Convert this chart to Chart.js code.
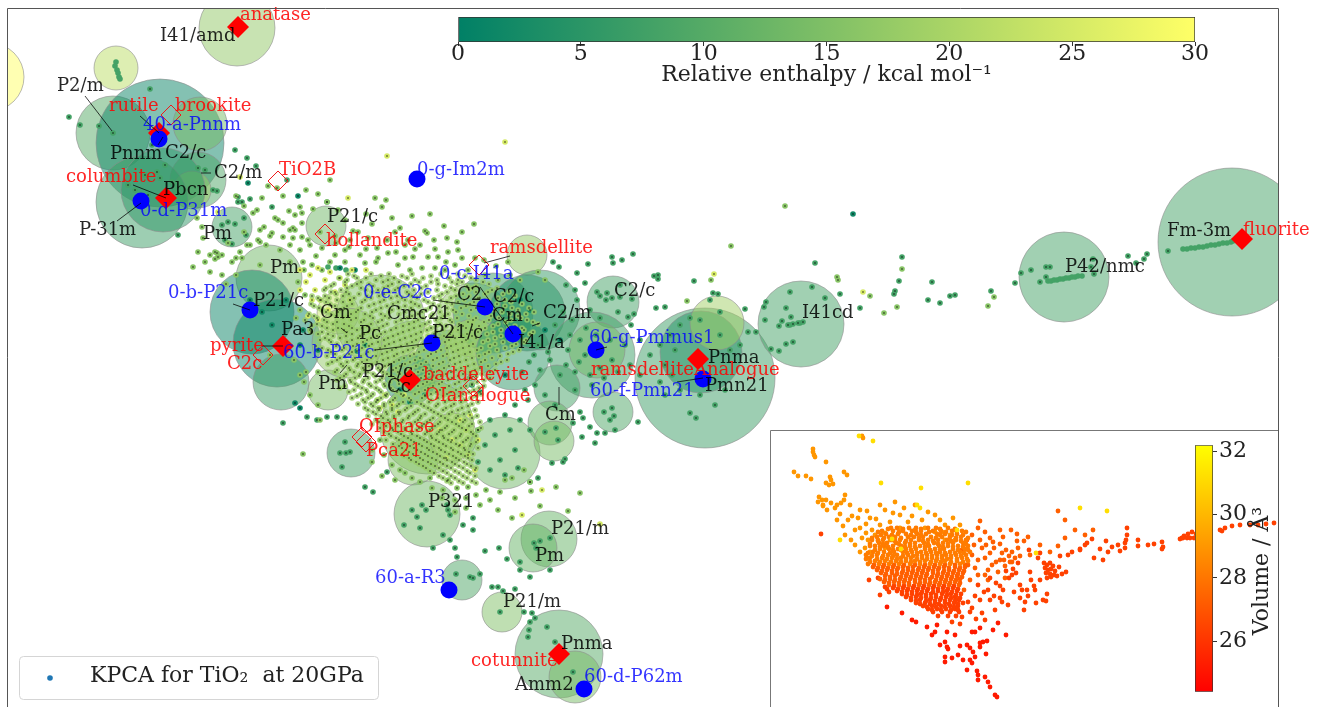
<!DOCTYPE html>
<html>
<head>
<meta charset="utf-8">
<title>KPCA for TiO2 at 20GPa</title>
<script src="https://cdn.jsdelivr.net/npm/chart.js@4/dist/chart.umd.min.js"></script>
<style>
  body { margin: 0; background: #fff; overflow: hidden; }
  canvas { position: absolute; }
</style>
</head>
<body>
<canvas id="main" width="1322" height="707" style="left:0;top:0"></canvas>
<canvas id="inset" width="508" height="277" style="left:770px;top:430px"></canvas>
<canvas id="barE" width="840" height="85" style="left:400px;top:5px"></canvas>
<canvas id="barV" width="105" height="277" style="left:1175px;top:430px"></canvas>
<script>
// all positions are in the plot's own units

// big circles: one per space group family
const circleX = [-10, 237, 116, 113, 160, 200, 198, 192, 142, 163, 232, 326, 269, 252, 277, 281, 338, 328, 413, 380, 347, 410, 447, 427, 413, 453, 504, 351, 527, 473, 493, 473, 527, 513, 540, 613, 592, 597, 557, 550, 554, 613, 705, 701, 717, 801, 1064, 1232, 427, 549, 533, 462, 502, 559, 575];
const circleY = [77, 28, 68, 133, 143, 124, 180, 190, 202, 190, 227, 226, 278, 312, 343, 382, 313, 390, 357, 320, 343, 380, 363, 427, 460, 437, 453, 453, 255, 320, 313, 347, 313, 353, 310, 302, 355, 350, 388, 423, 441, 412, 378, 352, 323, 324, 277, 242, 514, 539, 548, 580, 612, 654, 677];
const circleR = [34, 38, 22, 37, 64, 27, 28, 19, 46, 42, 20, 20, 33, 42, 44, 28, 21, 20, 36, 45, 35, 25, 33, 47, 25, 24, 36, 24, 20, 37, 40, 28, 38, 37, 40, 26, 43, 28, 23, 22, 20, 20, 70, 41, 27, 43, 45, 74, 33, 28, 24, 20, 20, 44, 26];
const circleE = [30, 17, 22, 10, 1, 14, 9, 18, 7, 5, 8, 13, 13, 1, 1, 7, 23, 14, 20, 15, 17, 4, 7, 16, 15, 20, 13, 8, 17, 17, 6, 20, 3, 5, 6, 8, 7, 13, 8, 12, 14, 9, 7, 4, 19, 8, 8, 8, 13, 12, 12, 9, 15, 10, 14];

// small structures, x,y pairs, grouped by relative enthalpy
const enthalpyDark = 2, enthalpyGreen = 8, enthalpyLime = 16, enthalpyYellow = 25;
const ptsDark = [853,214, 248,183, 298,196, 340,268, 355,270, 295,403, 300,408, 357,351, 365,345, 400,390, 410,402, 425,395, 472,385, 480,392, 470,378, 250,300, 262,312, 272,325, 286,300, 300,345, 303,330, 318,350, 530,310, 520,300, 545,330, 505,375, 560,340];
const ptsGreen = [69,117, 80,125, 99,126, 113,133, 150,89, 235,150, 247,158, 256,166, 217,191, 238,197, 238,202, 242,202, 250,199, 272,207, 287,180, 327,202, 160,140, 152,145, 165,165, 157,172, 145,175, 128,185, 135,190, 148,195, 160,178, 172,182, 198,168, 205,170, 213,190, 178,235, 222,225, 228,222, 235,224, 244,218, 246,235, 232,244, 225,240, 815,263, 902,257, 899,281, 895,291, 894,294, 860,308, 840,294, 812,287, 825,298, 790,292, 766,302, 764,307, 786,308, 791,317, 765,320, 782,321, 779,326, 788,325, 793,324, 798,323, 803,322, 786,344, 793,342, 771,349, 779,351, 745,309, 748,332, 756,332, 713,293, 718,294, 694,281, 654,276, 658,275, 658,279, 633,254, 622,260, 612,257, 613,263, 588,264, 577,273, 559,267, 553,262, 656,308, 665,307, 631,325, 690,413, 696,418, 638,422, 590,427, 580,412, 583,418, 573,423, 932,282, 928,300, 940,303, 950,296, 955,295, 991,291, 1015,283, 1021,273, 1031,270, 1040,282, 1046,267, 1050,267, 1046,277, 1093,259, 1091,267, 1094,274, 1128,256, 1136,263, 1144,259, 1147,254, 1168,251,
  365,487, 373,492, 387,472, 433,548, 443,535, 450,540, 455,548, 457,557, 480,574, 485,551, 499,548, 507,559, 456,574, 470,577, 473,578, 492,587, 498,587, 503,591, 515,589, 524,612, 532,613, 535,618, 547,627, 530,622, 529,630, 528,637, 530,577, 520,570, 550,570, 520,562, 500,612, 555,642, 573,672, 540,541, 534,543, 550,538, 536,548, 463,525, 473,518, 473,530, 422,505, 426,510, 412,510, 417,517, 404,525, 420,528, 450,515, 448,510, 447,505,
  345,442, 350,452, 346,453, 340,453, 342,467, 307,417, 317,420, 283,423, 327,417, 337,417, 345,418, 556,428, 558,440, 545,432, 604,412, 612,408, 614,416, 610,420, 595,443, 597,433, 605,433, 615,430, 582,437, 563,462, 565,459, 552,463, 538,478, 530,482,
  600,296, 606,300, 612,298, 620,297, 632,299, 597,292, 607,293, 620,285, 634,314, 618,312, 628,317, 577,300, 590,310, 600,318, 566,285, 575,290, 585,283, 580,340, 570,335, 585,355, 575,372, 566,365, 590,375, 600,368, 612,360, 625,345, 640,340, 650,355, 660,345, 670,335, 680,325, 690,318, 675,350, 665,365, 720,335, 730,350, 740,345, 700,320, 720,312, 710,300, 680,390, 665,395, 660,382, 672,375, 700,395, 715,405, 725,390, 545,395, 555,405, 535,385, 528,400, 540,370, 550,360, 560,375, 575,390, 520,420, 530,430, 510,430, 495,435, 485,445, 500,460, 515,450, 490,470, 505,475, 478,462, 518,468,
  538,345, 548,352, 529,362, 522,372, 534,355, 555,325, 563,312, 572,320, 586,328, 596,335, 610,340, 568,350, 579,362, 592,385, 604,378, 618,372, 630,365, 640,375, 525,390, 515,405, 505,415, 490,420, 478,430];
const ptsLime = [785,206, 731,246, 902,269, 870,296, 884,313, 897,307, 837,277, 838,280, 687,301, 711,280, 994,297, 988,306, 330,180, 277,188, 375,198, 386,200, 382,207, 327,202, 300,207, 302,213, 289,211, 295,215, 313,209, 253,213, 257,210, 197,218, 202,227, 275,218, 278,220, 283,223, 290,230, 302,223, 260,230, 264,227, 203,238, 198,252, 210,255, 215,252, 218,257, 247,245, 272,233, 293,238, 293,228, 302,237, 308,240, 353,231, 358,232, 387,240, 405,245, 425,231, 427,233, 415,249, 377,248, 435,249, 360,255, 428,257, 388,253, 413,257, 193,267, 217,253, 222,255, 215,259, 240,252, 242,258, 283,237, 295,230, 447,238, 457,242, 458,250, 448,252, 438,257, 475,258, 303,454, 457,488, 468,487, 512,518, 540,506, 556,487, 580,493, 568,511, 531,491, 530,482, 505,480, 515,498, 490,500, 480,505, 498,510, 466,498, 476,495, 455,500, 443,490, 448,480, 430,478, 420,482, 405,473, 395,480, 382,476, 372,462, 320,420, 318,405, 310,395, 304,382, 300,375, 294,360, 270,355, 260,265, 232,262, 236,275, 222,275, 250,245, 266,245, 280,250, 290,262, 303,262, 312,265, 322,270, 330,262, 335,255, 345,262, 365,263, 376,262, 398,265, 410,270, 422,268, 435,268, 445,270, 455,265, 468,270, 485,275, 498,280, 510,275, 520,280, 538,272, 545,280, 310,245, 322,248, 336,243, 349,247, 368,238, 395,232, 405,258, 316,256,
  236,196, 244,206, 262,198, 268,186, 283,196, 306,190, 318,194, 338,210, 345,220, 366,214, 372,224, 392,218, 400,228, 412,216, 430,214, 444,226, 462,232, 474,224, 228,243, 205,262, 210,272, 226,284, 300,250, 350,240, 366,249, 378,258, 396,252, 408,240, 420,245, 434,240, 446,262, 462,258, 484,260, 496,266, 508,262, 320,232, 335,236, 345,250, 270,236, 258,240, 244,232, 236,258, 260,242, 290,245, 304,270, 298,282, 305,295, 300,310, 296,318, 310,330, 306,372, 318,372, 380,440, 372,450, 384,455, 392,465, 400,470, 412,478, 432,488, 442,498, 455,512, 466,508, 486,490, 500,492, 512,478, 524,470];
const ptsYellow = [505,142, 387,156, 240,177, 348,198, 218,212, 714,274, 863,292, 522,515, 600,524, 542,490, 335,292, 345,285, 320,300, 328,310, 350,300, 315,290, 325,280, 310,275, 380,408, 385,395, 378,400, 392,405, 460,420, 470,415, 440,430, 452,440, 460,445, 475,470, 468,455, 300,270, 306,282, 318,268, 330,272, 340,278, 352,270, 366,270, 312,300, 300,290, 318,320, 308,316, 404,395, 398,412, 466,430, 478,440, 446,458];
// long streaks have no centre dot
const ptsStreak = [1048,281, 1051,281, 1054,280, 1057,280, 1060,279, 1063,279, 1066,278, 1069,278, 1072,277, 1075,277, 1078,276, 1082,276, 1183,249, 1187,249, 1191,248, 1195,248, 1199,247, 1203,247, 1207,246, 1211,245, 1215,245, 1219,244, 1223,243, 1227,243, 1231,242, 1233,241, 790,325, 800,323, 328,267, 336,268, 346,270, 116,62, 115,66, 117,70, 118,73, 119,77, 120,79];

// the crowded middle of the map, one row per y: y, then the x values along it
const coreRows = [
  [274, 348, 371, 389, 412, 441, 458],
  [278, 339, 357, 366, 394, 407, 423, 449, 471],
  [282, 345, 361, 383, 399, 419, 431, 452, 462, 483],
  [286, 331, 352, 373, 388, 404, 426, 445, 467, 476],
  [290, 324, 341, 366, 378, 395, 414, 437, 455, 469, 492],
  [294, 336, 349, 359, 384, 409, 421, 442, 463, 485, 503],
  [298, 318, 329, 354, 371, 391, 402, 417, 434, 451, 478, 498],
  [302, 326, 343, 362, 380, 398, 411, 428, 447, 458, 474, 511],
  [306, 314, 335, 347, 369, 387, 405, 419, 439, 466, 483, 505],
  [310, 322, 340, 358, 376, 392, 412, 426, 453, 471, 494, 518],
  [314, 309, 331, 351, 365, 381, 399, 418, 433, 448, 462, 487, 510, 526],
  [318, 317, 343, 356, 373, 389, 407, 423, 441, 457, 476, 499, 521],
  [322, 327, 337, 361, 378, 396, 414, 429, 452, 468, 484, 506, 533],
  [326, 312, 322, 349, 367, 383, 403, 420, 436, 446, 463, 479, 493, 515],
  [330, 333, 344, 357, 374, 391, 409, 427, 443, 458, 472, 501, 524],
  [334, 318, 328, 352, 364, 381, 398, 416, 434, 450, 467, 487, 508, 530],
  [338, 325, 340, 358, 371, 388, 405, 421, 439, 455, 476, 495, 517],
  [342, 331, 347, 363, 378, 394, 412, 428, 445, 462, 483, 503, 524],
  [346, 316, 336, 353, 369, 385, 401, 418, 436, 451, 469, 490, 512],
  [350, 328, 342, 359, 375, 392, 408, 424, 441, 458, 477, 497, 519],
  [354, 335, 349, 366, 382, 397, 414, 431, 447, 465, 485, 508],
  [358, 340, 355, 371, 388, 404, 420, 437, 454, 472, 492],
  [362, 332, 347, 362, 377, 394, 410, 426, 443, 460, 481, 501],
  [366, 343, 357, 369, 385, 400, 416, 433, 449, 468, 488],
  [370, 337, 350, 364, 380, 393, 406, 423, 439, 456, 475, 495],
  [374, 346, 360, 373, 387, 400, 414, 429, 446, 463, 482],
  [378, 340, 355, 368, 382, 395, 421, 436, 452, 470, 490],
  [382, 351, 363, 376, 390, 427, 442, 459, 477],
  [386, 345, 358, 371, 385, 418, 433, 449, 466, 484],
  [390, 354, 366, 379, 393, 425, 440, 456, 474],
  [394, 361, 373, 387, 401, 415, 431, 447, 463, 481],
  [398, 352, 368, 381, 395, 409, 422, 438, 454, 471],
  [402, 365, 376, 390, 403, 417, 429, 445, 461, 478],
  [406, 373, 384, 397, 411, 424, 436, 451, 468],
  [410, 368, 379, 392, 405, 418, 431, 443, 458, 475],
  [414, 376, 387, 399, 413, 425, 438, 449, 464],
  [418, 383, 394, 408, 420, 433, 445, 456, 472],
  [422, 379, 390, 402, 415, 427, 440, 452, 463, 480],
  [426, 386, 398, 411, 422, 435, 447, 459, 469],
  [430, 393, 405, 417, 430, 442, 454, 466, 478],
  [434, 389, 401, 412, 425, 437, 449, 461, 473],
  [438, 396, 408, 420, 432, 444, 456, 468],
  [442, 403, 414, 427, 439, 451, 463, 476],
  [446, 399, 410, 422, 434, 446, 459, 470],
  [450, 406, 417, 429, 441, 453, 465],
  [454, 402, 413, 425, 437, 449, 461, 473],
  [458, 409, 420, 432, 444, 456, 468],
  [462, 416, 428, 440, 452, 464],
  [466, 423, 435, 447, 459, 471],
  [471, 430, 443, 455, 467],
  [476, 439, 451, 463, 475],
  [481, 447, 459, 472],
  [276, 354, 381, 402, 431, 465],
  [280, 347, 376, 388, 415, 437, 458, 476],
  [284, 334, 357, 369, 392, 411, 438, 457, 489],
  [288, 326, 347, 361, 384, 398, 421, 451, 472, 497],
  [292, 331, 346, 372, 389, 407, 428, 447, 476, 488, 509],
  [296, 312, 325, 343, 367, 379, 397, 412, 439, 456, 469, 515],
  [300, 321, 337, 350, 365, 384, 405, 424, 441, 464, 488, 505],
  [304, 311, 330, 352, 374, 393, 415, 433, 452, 470, 497, 522],
  [308, 319, 344, 361, 381, 399, 411, 430, 447, 461, 476, 512, 529],
  [312, 326, 338, 356, 372, 389, 405, 422, 440, 456, 481, 502, 534],
  [316, 314, 336, 348, 370, 385, 412, 431, 444, 469, 491, 518],
  [320, 305, 324, 351, 364, 382, 401, 418, 436, 450, 473, 489, 511, 527],
  [324, 317, 333, 344, 371, 387, 409, 425, 440, 459, 472, 498, 538],
  [328, 327, 338, 352, 362, 379, 396, 414, 431, 453, 466, 485, 509, 522],
  [332, 311, 322, 347, 368, 385, 403, 421, 437, 451, 478, 493, 533],
  [336, 333, 346, 360, 377, 393, 411, 428, 444, 461, 472, 501, 518],
  [340, 320, 329, 352, 367, 384, 400, 416, 433, 449, 466, 488, 510, 526],
  [344, 337, 357, 372, 389, 407, 423, 440, 456, 473, 495, 516],
  [348, 322, 344, 362, 380, 396, 413, 431, 447, 463, 481, 505],
  [352, 331, 352, 368, 387, 403, 419, 436, 453, 470, 489, 513],
  [356, 327, 345, 361, 376, 394, 410, 428, 443, 459, 479, 500],
  [360, 337, 353, 367, 383, 399, 415, 433, 450, 466, 485, 507],
  [364, 328, 341, 358, 372, 389, 405, 421, 439, 455, 474, 496],
  [368, 349, 363, 378, 396, 411, 427, 444, 461, 480],
  [372, 335, 354, 368, 383, 398, 418, 434, 451, 470, 490],
  [376, 344, 359, 375, 391, 406, 425, 441, 458, 476],
  [380, 337, 350, 364, 380, 398, 432, 448, 465, 484],
  [384, 355, 369, 384, 399, 423, 439, 455, 472],
  [388, 340, 362, 376, 391, 411, 428, 445, 461, 479],
  [392, 349, 367, 381, 397, 419, 436, 451, 469],
  [396, 357, 371, 386, 403, 425, 443, 459, 476],
  [400, 363, 377, 393, 411, 431, 449, 465],
  [404, 358, 371, 384, 399, 421, 438, 454, 472],
  [408, 365, 378, 392, 407, 428, 446, 462],
  [412, 373, 386, 400, 415, 434, 452, 469],
  [416, 368, 381, 394, 409, 421, 441, 458, 477],
  [420, 376, 388, 403, 418, 430, 448, 465],
  [424, 372, 384, 396, 411, 424, 438, 456, 472],
  [428, 380, 392, 405, 419, 432, 445, 462, 481],
  [432, 384, 398, 411, 427, 439, 452, 471],
  [436, 391, 404, 417, 431, 443, 460, 476],
  [440, 386, 399, 411, 424, 436, 448, 466],
  [444, 393, 407, 419, 431, 443, 456, 471],
  [448, 402, 414, 427, 439, 451, 464, 478],
  [452, 396, 409, 421, 433, 445, 458, 469],
  [456, 404, 416, 428, 440, 453, 465],
  [460, 411, 423, 436, 447, 459, 472],
  [464, 419, 431, 443, 455, 467],
  [468, 426, 439, 451, 463, 476],
  [473, 434, 447, 459, 470],
  [478, 443, 455, 467],
  [483, 451, 463, 476]
];

// markers from the literature and from the search
const knownX = [238, 159, 166, 283, 410, 698, 559, 1242];
const knownY = [27, 133, 198, 346, 380, 359, 654, 239];
const openX = [171, 278, 325, 479, 263, 473, 362, 366];
const openY = [115, 181, 234, 265, 355, 386, 437, 442];
const blueX = [159, 417, 141, 250, 485, 513, 432, 596, 703, 449, 584];
const blueY = [139, 179, 201, 310, 307, 334, 343, 350, 379, 590, 689];

// text: label, left x, middle y
const blackLabels = [['I41/amd',160,36],['P2/m',57,86],['Pnnm',110,154],['C2/c',165,153],['C2/m',214,173],['Pbcn',163,190],['P-31m',79,230],['Pm',203,234],['P21/c',327,217],['Pm',270,268],['P21/c',253,301],['Cm',320,313],['Cmc21',387,314],['Pc',359,334],['Pa3',281,330],['P21/c',432,333],['P21/c',362,372],['Pm',318,384],['Cc',387,387],['C2',457,295],['C2/c',493,297],['Cm',492,316],['C2/c',614,291],['C2/m',543,313],['I41/a',518,343],['Cm',545,415],['I41cd',802,313],['Pnma',708,358],['Pmn21',705,386],['P42/nmc',1065,267],['Fm-3m',1167,231],['P321',428,502],['P21/m',551,529],['Pm',535,556],['P21/m',503,602],['Pnma',561,644],['Amm2',515,685]];
const redLabels = [['anatase',240,15],['rutile',109,106],['brookite',175,106],['columbite',66,177],['TiO2B',279,170],['hollandite',326,241],['ramsdellite',490,248],['pyrite',210,346],['C2c',227,364],['baddeleyite',423,375],['OIanalogue',425,396],['OIphase',359,427],['Pca21',366,451],['ramsdelliteAnalogue',591,370],['fluorite',1243,230],['cotunnite',471,661]];
const blueLabels = [['40-a-Pnnm',143,125],['0-g-Im2m',417,170],['0-d-P31m',140,211],['0-b-P21c',168,293],['0-e-C2c',363,293],['0-c-I41a',439,274],['60-b-P21c',283,353],['60-g-Pminus1',589,338],['60-f-Pmn21',590,391],['60-a-R3',375,578],['60-d-P62m',584,677]];
// leader lines: x1,y1,x2,y2
const leaders = [[85,96,112,131],[117,221,141,203],[140,116,159,133],[133,185,166,198],[158,145,163,137],[201,173,211,173],[484,263,510,256],[262,346,283,346],[233,304,250,310],[433,300,485,307],[375,350,432,343],[341,328,347,333],[480,287,513,334],[532,326,540,323],[559,387,559,405],[677,382,703,378],[340,373,347,365],[596,350,607,347]];

// inset: volume bands and points, same idea
const volTail = 25.2, volLow = 26.4, volMid = 27.3, volCore = 28.2, volHigh = 29.0, volTop = 31.2;
const insetTail = [997,697, 995,695, 990,687, 988,682, 985,677, 978,680, 978,675, 977,671, 967,670, 972,663, 970,660, 963,660, 945,657, 945,662, 952,658, 958,655, 973,652, 975,657, 986,654, 960,646, 967,645, 970,648, 980,643, 983,642, 987,641, 980,647, 940,645, 945,642, 947,647, 948,649, 932,635, 935,632, 947,632, 955,635, 927,627, 937,625, 912,620, 916,622, 1006,635, 998,623, 993,630, 972,632, 975,632, 980,628, 887,607, 902,613];
const insetLow = [880,595, 885,587, 887,589, 889,592, 869,580, 878,578, 821,534, 1274,523, 1266,524, 1258,525, 1250,525, 1240,525, 1232,526, 1225,528, 1222,531, 1220,530, 1196,534, 1192,532, 1188,534, 1184,536, 1182,538, 1180,539, 1183,538, 1187,538, 1190,538, 1194,538, 1162,542, 1163,547, 1162,549, 1154,544, 1148,545, 1138,540, 1138,546, 1127,528, 1127,535, 1126,540, 1125,543, 1125,548, 1120,551, 1112,547, 1106,541, 1100,549, 1092,539, 1087,543, 1080,550,
  1044,563, 1047,565, 1050,563, 1053,566, 1045,568, 1048,570, 1051,569, 1055,571, 1046,573, 1050,574, 1054,575, 1047,578, 1051,577, 1057,576, 1062,574, 1066,572, 1059,567, 1040,580, 1035,590, 1028,596, 1025,602, 1043,600, 1047,594, 1046,601, 1036,603, 1024,610, 1034,586, 1022,590, 1020,585, 1014,592, 1008,605, 1000,598, 995,610, 990,600, 985,620, 982,613, 976,619, 970,612, 960,624, 968,602, 975,596, 988,590, 1000,586, 1009,578, 1016,573, 1030,572, 1038,558, 1029,550, 1040,553, 1060,556, 1068,555, 1072,552, 1080,549, 1085,545, 1094,558, 1103,560, 1108,552, 1118,545,
  996,583, 990,578, 1006,571, 1013,569, 1018,563, 1012,575, 1003,590, 980,600, 972,608, 962,617, 952,622, 978,585, 984,592, 994,596, 1002,602, 1020,598, 1031,580, 1027,590];
const insetMid = [1000,544, 1006,550, 1012,552, 1018,548, 1024,541, 1028,537, 1017,534, 1011,530, 1000,530, 985,532, 978,528, 980,521, 990,538, 1000,560, 992,565, 985,575, 978,575, 970,580, 1012,562, 1005,566, 998,572, 1005,578, 1010,562, 1015,558, 1020,556, 990,553, 982,548, 974,545, 967,540, 962,550, 972,555, 978,560, 985,558, 968,565, 975,568, 988,580, 964,590, 956,598, 1058,511, 1065,520, 1093,530, 1085,535, 1075,530, 1065,538, 1058,546, 1050,552, 1040,545, 1030,555, 986,545, 994,548, 1002,553, 1009,556, 1017,541, 1003,537, 993,542, 972,535, 980,540, 988,570, 996,562, 1004,560];
const insetHigh = [862,436, 863,438, 813,449, 813,452, 814,455, 815,457, 826,462, 794,472, 798,476, 806,476, 811,479, 844,472, 847,475, 830,477, 831,480, 833,484, 829,485, 826,483, 819,497, 822,500, 818,502, 826,500, 831,503, 837,505, 845,495, 844,500, 841,503, 835,508, 823,505, 827,510, 823,506, 850,505, 840,514, 848,520, 860,510, 858,518, 867,511, 870,518, 880,505, 885,510, 895,502, 900,515, 915,505, 922,520, 935,515, 945,525, 955,530, 940,520, 950,535, 960,525, 837,520, 860,528, 862,538, 855,530, 845,535, 868,540, 880,525, 890,522, 872,530, 885,533, 890,540, 900,528, 908,522, 915,530, 925,528, 935,532, 945,540, 955,540, 865,548, 860,552, 870,552, 878,540, 885,548, 895,538, 852,516, 866,524, 876,519, 893,513, 904,508, 912,516, 928,512, 942,532, 953,518, 875,535, 866,533, 851,540, 843,526, 855,545, 867,558];
const insetTop = [859,436, 873,441, 921,488, 968,483, 1080,508, 1107,511, 881,483, 917,505, 920,508, 892,539, 901,549, 957,530, 840,540, 1036,553];
const insetCoreRows = [
  [528, 891, 897, 909, 916, 928, 936, 948],
  [531, 882, 893, 903, 912, 921, 933, 941, 952, 962],
  [534, 886, 898, 906, 917, 926, 937, 945, 957],
  [537, 877, 889, 895, 908, 914, 923, 931, 942, 950, 961],
  [540, 872, 883, 892, 900, 911, 919, 928, 938, 947, 956, 966],
  [543, 879, 887, 896, 905, 915, 924, 934, 943, 953, 963],
  [546, 870, 875, 884, 893, 901, 910, 920, 929, 939, 948, 958, 968],
  [549, 880, 889, 898, 906, 916, 925, 935, 944, 953, 965],
  [552, 873, 884, 894, 903, 912, 921, 931, 940, 950, 960, 970],
  [555, 866, 877, 888, 897, 908, 917, 927, 937, 946, 956, 966],
  [558, 870, 882, 892, 901, 911, 922, 932, 942, 951, 962],
  [561, 875, 885, 896, 906, 915, 925, 936, 945, 957, 968],
  [564, 868, 879, 889, 899, 910, 920, 930, 940, 950, 960],
  [529, 888, 903, 921, 940, 955],
  [532, 878, 899, 916, 929, 946, 966],
  [535, 881, 892, 911, 921, 940, 952, 963],
  [538, 872, 884, 901, 919, 936, 956, 968],
  [541, 878, 895, 906, 923, 933, 951, 961],
  [544, 870, 883, 899, 910, 928, 938, 948, 966],
  [547, 880, 888, 905, 915, 925, 943, 953, 963],
  [550, 875, 893, 901, 911, 930, 940, 958, 968],
  [553, 868, 878, 890, 907, 917, 926, 936, 945, 955, 964],
  [556, 872, 883, 893, 903, 913, 922, 932, 942, 951, 961],
  [559, 866, 877, 887, 897, 906, 917, 927, 937, 947, 957, 967],
  [562, 870, 880, 891, 901, 911, 920, 931, 941, 951, 963]
];
const insetMidRows = [
  [567, 873, 883, 893, 903, 913, 924, 934, 944, 955, 965],
  [570, 877, 887, 897, 908, 918, 928, 938, 949, 959],
  [573, 881, 892, 902, 912, 922, 933, 943, 953, 963],
  [576, 885, 895, 906, 916, 926, 937, 947, 957],
  [579, 880, 890, 900, 910, 920, 930, 941, 951, 960],
  [582, 884, 894, 904, 915, 925, 935, 945, 955],
  [585, 889, 899, 909, 919, 929, 939, 949, 959],
  [565, 874, 884, 894, 904, 915, 925, 935, 945, 955, 965],
  [568, 878, 888, 898, 908, 919, 929, 939, 949, 960],
  [571, 882, 892, 903, 913, 923, 933, 944, 954, 964],
  [574, 886, 897, 907, 917, 927, 938, 948, 958],
  [577, 890, 901, 911, 921, 932, 942, 952, 962],
  [580, 885, 895, 905, 915, 925, 936, 946, 956],
  [583, 889, 899, 909, 920, 930, 940, 950, 960]
];
const insetLowRows = [
  [588, 893, 903, 913, 923, 933, 943, 953],
  [591, 897, 907, 917, 927, 938, 947, 957],
  [594, 902, 912, 921, 931, 942, 951, 961],
  [597, 906, 916, 926, 936, 946, 955],
  [600, 911, 920, 930, 940, 950, 959],
  [603, 916, 925, 935, 945, 954, 963],
  [606, 923, 932, 941, 950, 958],
  [609, 928, 937, 946, 955],
  [612, 933, 942, 950, 959],
  [616, 938, 948, 956],
  [586, 894, 904, 914, 924, 934, 944, 954],
  [589, 898, 908, 918, 928, 938, 948, 958],
  [592, 902, 912, 922, 933, 943, 952],
  [595, 907, 917, 926, 936, 947, 956],
  [598, 911, 921, 931, 941, 951, 960],
  [601, 916, 926, 935, 945, 955],
  [604, 920, 930, 939, 949, 958],
  [607, 927, 936, 945, 954],
  [610, 932, 941, 951, 958]
];

const tickE = [0, 5, 10, 15, 20, 25, 30];
const tickV = [26, 28, 30, 32];

const serif = '"DejaVu Serif", serif';
const labelPx = 18;

function pairs(flat) {
  const out = [];
  for (let i = 0; i < flat.length; i += 2) out.push({ x: flat[i], y: flat[i + 1] });
  return out;
}
function rowPoints(rows) {
  const out = [];
  rows.forEach(r => r.slice(1).forEach(x => out.push({ x: x, y: r[0] })));
  return out;
}
function summer(e, a) {
  const t = e / 30;
  return `rgba(${Math.round(255 * t)},${Math.round(128 + 127 * t)},102,${a})`;
}
function autumn(v) {
  return `rgb(255,${Math.round(255 * (v - 24.4) / 7.8)},0)`;
}

const corePts = rowPoints(coreRows);
const darkPts = pairs(ptsDark), greenPts = pairs(ptsGreen), limePts = pairs(ptsLime), yellowPts = pairs(ptsYellow);
const blackPts = corePts.concat(darkPts, greenPts, limePts, yellowPts);

function smallSet(data, color, r) {
  return { type: 'scatter', data: data, backgroundColor: color, borderWidth: 0, pointRadius: r };
}

const annotate = {
  id: 'annotate',
  afterDatasetsDraw(chart) {
    const c = chart.ctx, sx = chart.scales.x, sy = chart.scales.y;
    const a = chart.chartArea;
    c.save();
    c.strokeStyle = 'rgba(0,0,0,0.75)';
    c.lineWidth = 1;
    leaders.forEach(l => {
      c.beginPath();
      c.moveTo(sx.getPixelForValue(l[0]), sy.getPixelForValue(l[1]));
      c.lineTo(sx.getPixelForValue(l[2]), sy.getPixelForValue(l[3]));
      c.stroke();
    });
    c.font = labelPx + 'px ' + serif;
    c.textAlign = 'left';
    c.textBaseline = 'middle';
    const put = (list, color) => {
      c.fillStyle = color;
      list.forEach(t => c.fillText(t[0], sx.getPixelForValue(t[1]), sy.getPixelForValue(t[2])));
    };
    put(blackLabels, 'rgba(0,0,0,0.85)');
    put(redLabels, 'rgba(255,0,0,0.85)');
    put(blueLabels, 'rgba(0,0,255,0.8)');

    // frame
    c.strokeStyle = '#555';
    c.beginPath();
    c.moveTo(a.left - 0.5, a.bottom);
    c.lineTo(a.left - 0.5, a.top - 0.5);
    c.lineTo(a.right + 0.5, a.top - 0.5);
    c.lineTo(a.right + 0.5, a.bottom);
    c.stroke();

    // legend box
    c.beginPath();
    c.roundRect(19.5, 656.5, 359, 43, 4);
    c.fillStyle = 'rgba(255,255,255,0.85)';
    c.fill();
    c.strokeStyle = '#d5d5d5';
    c.stroke();
    c.beginPath();
    c.arc(50, 678, 2.8, 0, Math.PI * 2);
    c.fillStyle = '#1f77b4';
    c.fill();
    c.fillStyle = '#222';
    c.font = '22px ' + serif;
    c.fillText('KPCA for TiO\u2082  at 20GPa', 90, 676);
    c.restore();
  }
};

new Chart(document.getElementById('main'), {
  plugins: [annotate],
  data: {
    datasets: [
      { type: 'scatter', data: blueX.map((x, i) => ({ x: x, y: blueY[i] })), backgroundColor: '#0000ff', borderWidth: 0, pointRadius: 8.5 },
      { type: 'scatter', data: knownX.map((x, i) => ({ x: x, y: knownY[i] })), pointStyle: 'rectRot', backgroundColor: '#ff0000', borderWidth: 0, pointRadius: 11 },
      { type: 'scatter', data: openX.map((x, i) => ({ x: x, y: openY[i] })), pointStyle: 'rectRot', backgroundColor: 'rgba(0,0,0,0)', borderColor: '#f01818', borderWidth: 1, pointRadius: 10 },
      smallSet(blackPts, '#000', 0.7),
      smallSet(corePts, summer(18, 0.8), 2.8),
      smallSet(yellowPts, summer(enthalpyYellow, 1), 2.8),
      smallSet(limePts, summer(enthalpyLime, 1), 2.8),
      smallSet(greenPts, summer(enthalpyGreen, 1), 2.8),
      smallSet(darkPts, summer(enthalpyDark, 1), 2.8),
      smallSet(pairs(ptsStreak), summer(enthalpyGreen, 1), 2.8),
      {
        type: 'bubble',
        data: circleX.map((x, i) => ({ x: x, y: circleY[i], r: circleR[i] })),
        backgroundColor: circleE.map(e => summer(e, 0.5)),
        borderColor: 'rgba(140,140,140,0.6)',
        borderWidth: 1
      }
    ]
  },
  options: {
    responsive: false,
    animation: false,
    events: [],
    layout: { autoPadding: false, padding: { left: 8, top: 9, right: 44, bottom: 0 } },
    plugins: { legend: { display: false }, tooltip: { enabled: false } },
    scales: {
      x: { type: 'linear', min: 8, max: 1278, display: false },
      y: { type: 'linear', min: 9, max: 707, reverse: true, display: false }
    }
  }
});

const insetFrame = {
  id: 'insetFrame',
  beforeDraw(chart) {
    const c = chart.ctx;
    c.save();
    c.fillStyle = '#fff';
    c.fillRect(0, 0, chart.width, chart.height);
    c.strokeStyle = '#777';
    c.lineWidth = 1;
    c.beginPath();
    c.moveTo(0.5, chart.height);
    c.lineTo(0.5, 0.5);
    c.lineTo(chart.width, 0.5);
    c.stroke();
    c.restore();
  }
};

function insetSet(data, v) {
  return { data: data, backgroundColor: autumn(v), borderWidth: 0, pointRadius: 2.4 };
}

new Chart(document.getElementById('inset'), {
  type: 'scatter',
  plugins: [insetFrame],
  data: {
    datasets: [
      insetSet(pairs(insetTop), volTop),
      insetSet(pairs(insetTail), volTail),
      insetSet(rowPoints(insetCoreRows), volCore),
      insetSet(rowPoints(insetMidRows), volMid),
      insetSet(rowPoints(insetLowRows), volLow),
      insetSet(pairs(insetLow), volLow),
      insetSet(pairs(insetMid), volMid),
      insetSet(pairs(insetHigh), volHigh)
    ]
  },
  options: {
    responsive: false,
    animation: false,
    events: [],
    layout: { autoPadding: false, padding: 0 },
    plugins: { legend: { display: false }, tooltip: { enabled: false } },
    scales: {
      x: { type: 'linear', min: 770, max: 1278, display: false },
      y: { type: 'linear', min: 430, max: 707, reverse: true, display: false }
    }
  }
});

const tickFont = { family: serif, size: 22 };

// enthalpy colour bar
new Chart(document.getElementById('barE'), {
  type: 'bar',
  data: {
    labels: [''],
    datasets: [{
      data: [[0, 30]],
      barPercentage: 1,
      categoryPercentage: 1,
      borderWidth: 1,
      borderSkipped: false,
      borderColor: '#333',
      backgroundColor(ctx) {
        const a = ctx.chart.chartArea;
        if (!a) return summer(15, 1);
        const g = ctx.chart.ctx.createLinearGradient(a.left, 0, a.right, 0);
        g.addColorStop(0, summer(0, 1));
        g.addColorStop(1, summer(30, 1));
        return g;
      }
    }]
  },
  options: {
    indexAxis: 'y',
    responsive: false,
    animation: false,
    events: [],
    layout: { padding: { left: 58, right: 45, top: 12, bottom: 0 } },
    plugins: { legend: { display: false }, tooltip: { enabled: false } },
    scales: {
      x: {
        type: 'linear', min: 0, max: 30,
        afterBuildTicks: s => { s.ticks = tickE.map(v => ({ value: v })); },
        afterFit: s => { s.height = 48; },
        grid: { drawOnChartArea: false, tickLength: 4, tickColor: '#333' },
        border: { display: false },
        ticks: { font: tickFont, color: '#222', maxRotation: 0, padding: -5 },
        title: { display: true, text: 'Relative enthalpy / kcal mol\u207B\u00B9', font: tickFont, color: '#222', padding: { top: 0, bottom: 2 } }
      },
      y: { display: false }
    }
  }
});

const volumeTitle = {
  id: 'volumeTitle',
  afterDraw(chart) {
    const c = chart.ctx;
    c.save();
    c.translate(87, 141);
    c.rotate(-Math.PI / 2);
    c.font = tickFont.size + 'px ' + serif;
    c.fillStyle = '#222';
    c.textAlign = 'center';
    c.textBaseline = 'middle';
    c.fillText('Volume / \u00C5\u00B3', 0, 0);
    c.restore();
  }
};

// volume colour bar
new Chart(document.getElementById('barV'), {
  type: 'bar',
  plugins: [volumeTitle],
  data: {
    labels: [''],
    datasets: [{
      data: [[24.4, 32.2]],
      barPercentage: 1,
      categoryPercentage: 1,
      borderWidth: 1,
      borderSkipped: false,
      borderColor: '#333',
      backgroundColor(ctx) {
        const a = ctx.chart.chartArea;
        if (!a) return autumn(28);
        const g = ctx.chart.ctx.createLinearGradient(0, a.bottom, 0, a.top);
        g.addColorStop(0, autumn(24.4));
        g.addColorStop(1, autumn(32.2));
        return g;
      }
    }]
  },
  options: {
    responsive: false,
    animation: false,
    events: [],
    layout: { padding: { left: 20, top: 15, bottom: 11, right: 0 } },
    plugins: { legend: { display: false }, tooltip: { enabled: false } },
    scales: {
      x: { display: false },
      y: {
        type: 'linear', min: 24.4, max: 32.2, position: 'right',
        afterBuildTicks: s => { s.ticks = tickV.map(v => ({ value: v })); },
        afterFit: s => { s.width = 67; },
        grid: { drawOnChartArea: false, tickLength: 4, tickColor: '#333' },
        border: { display: false },
        ticks: { font: tickFont, color: '#222', padding: 2 }
      }
    }
  }
});
</script>
</body>
</html>
